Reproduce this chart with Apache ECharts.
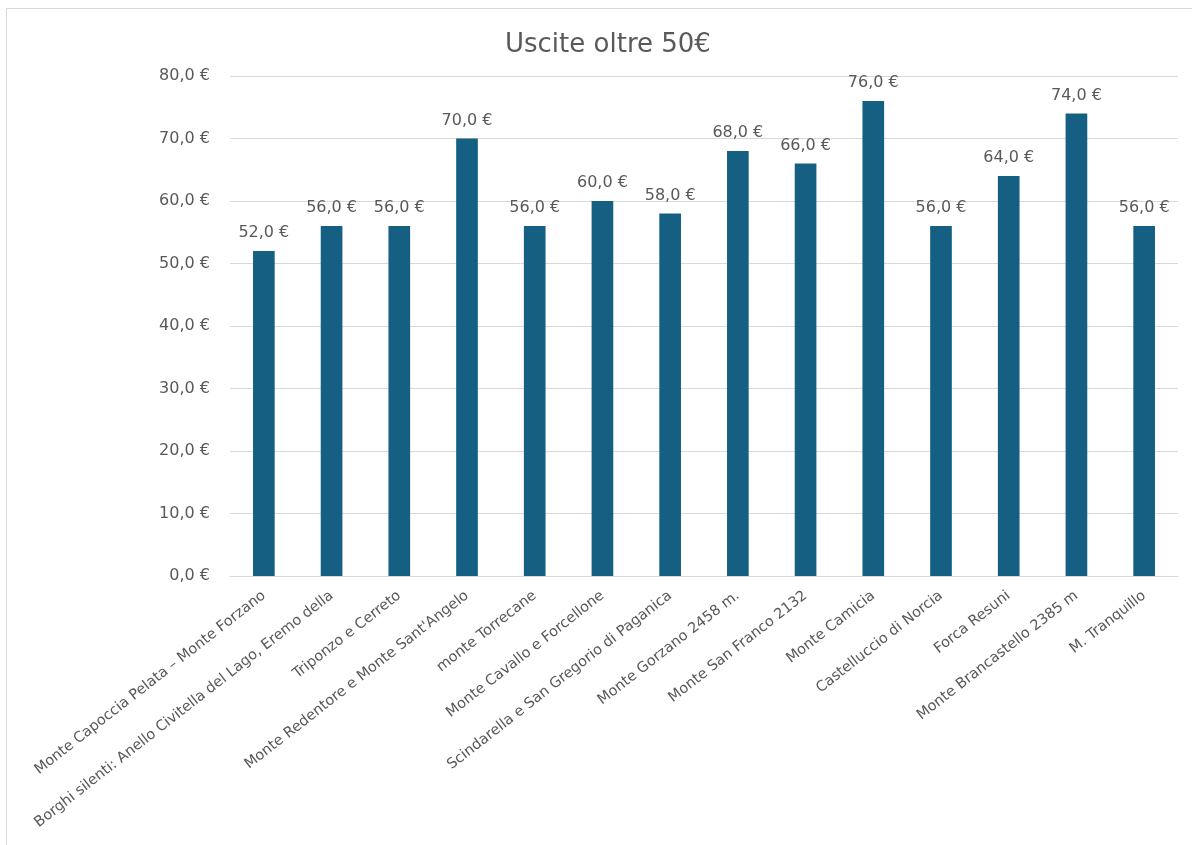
<!DOCTYPE html>
<html><head><meta charset="utf-8">
<script src="https://cdn.jsdelivr.net/npm/echarts@6/dist/echarts.min.js"></script>
<style>html,body{margin:0;padding:0;background:#fff}#c{width:1192px;height:845px}</style>
</head><body><div id="c"></div>
<script>
const categories = [
  "Monte Capoccia Pelata \u2013 Monte Forzano",
  "Borghi silenti: Anello Civitella del Lago, Eremo della",
  "Triponzo e Cerreto",
  "Monte Redentore e Monte Sant'Angelo",
  "monte Torrecane",
  "Monte Cavallo e Forcellone",
  "Scindarella e San Gregorio di Paganica",
  "Monte Gorzano 2458 m.",
  "Monte San Franco 2132",
  "Monte Camicia",
  "Castelluccio di Norcia",
  "Forca Resuni",
  "Monte Brancastello 2385 m",
  "M. Tranquillo"
];
const values = [52, 56, 56, 70, 56, 60, 58, 68, 66, 76, 56, 64, 74, 56];
const title = "Uscite oltre 50\u20ac";

const fmt = v => v.toFixed(1).replace('.', ',') + ' \u20ac';
const chart = echarts.init(document.getElementById('c'));
const wide = "'DejaVu Sans', Verdana, sans-serif";
chart.setOption({
  animation: false,
  title: { text: title, left: 500, top: 27,
    textStyle: { fontFamily: wide, fontSize: 26, fontWeight: 'normal', color: '#595959' } },
  graphic: [
    { type: 'line', shape: { x1: 6.5, y1: 8.5, x2: 1192, y2: 8.5 }, style: { stroke: '#d9d9d9', lineWidth: 1 } },
    { type: 'line', shape: { x1: 6.5, y1: 8.5, x2: 6.5, y2: 845 }, style: { stroke: '#d9d9d9', lineWidth: 1 } }
  ],
  grid: { left: 230, right: 14, top: 76, bottom: 269, containLabel: false },
  xAxis: {
    type: 'category', data: categories,
    axisLine: { lineStyle: { color: '#d9d9d9' } },
    axisTick: { show: false },
    axisLabel: { rotate: 38, interval: 0, margin: 18, color: '#595959', fontSize: 14.5, fontFamily: wide }
  },
  yAxis: {
    type: 'value', min: 0, max: 80, interval: 10,
    axisLine: { show: false }, axisTick: { show: false },
    splitLine: { lineStyle: { color: '#d9d9d9' } },
    axisLabel: { formatter: fmt, margin: 20, color: '#595959', fontSize: 16, fontFamily: wide }
  },
  series: [{
    type: 'bar', data: values, barWidth: '32%',
    itemStyle: { color: '#156082' },
    label: { show: true, position: 'top', distance: 10, formatter: p => fmt(p.value),
      color: '#595959', fontSize: 16, fontFamily: wide }
  }]
});
</script></body></html>
